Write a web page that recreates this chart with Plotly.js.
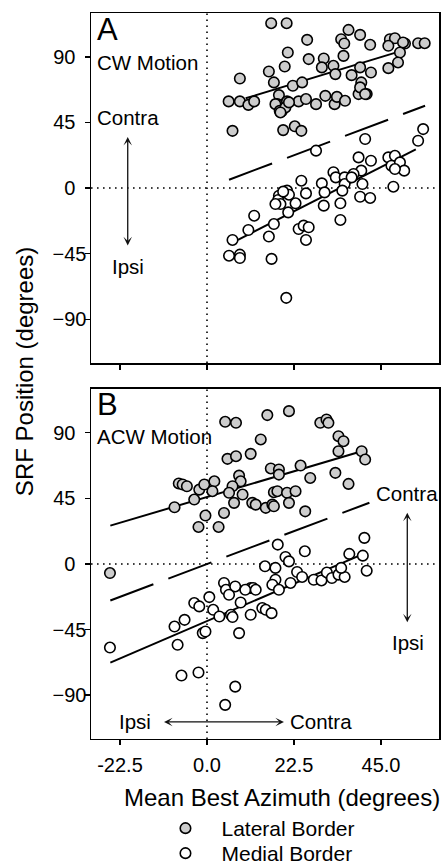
<!DOCTYPE html>
<html>
<head>
<meta charset="utf-8">
<script src="https://cdn.plot.ly/plotly-3.0.1.min.js"></script>
<style>html,body{margin:0;padding:0;background:#fff;}#chart{width:446px;height:864px;}</style>
</head>
<body>
<div id="chart"></div>
<script>
// ---------- Panel A (CW Motion) ----------
const aLatX = [16.6,20.6,25.9,20.9,20.1,8.5,16.0,17.3,18.6,22.2,24.6,26.3,30.2,29.7,32.7,33.2,35.3,34.7,36.6,35.5,39.6,42.2,39.6,37.4,42.4,39.9,39.2,41.3,47.3,48.6,46.9,51.2,54.6,56.3,49.9,49.4,46.9,5.6,8.5,10.7,12.2,18.2,19.4,20.7,23.7,25.6,28.2,30.6,33.0,33.6,35.7,6.6,19.7,22.7,24.4,17.7,18.8,20.3,21.2,50.7,39.6,40.9,19.0];
const aLatY = [113,113,101.6,92.9,83.3,75.1,79.9,72.4,63.7,70.1,72.4,88.4,88.8,82.7,83.8,78.1,90.6,102,108.4,99.1,105,98.2,82.7,77.4,79.2,72.4,64.4,64.4,102,102.7,97.5,99.1,99.3,99.3,92.9,86.1,82.2,59.4,59.4,57,59.4,57.5,52.9,59.4,59.4,61,57.5,63.2,57.5,62.5,59.8,39.2,39.7,42.3,39.2,57.5,52.9,55.3,58.7,99.8,69,64.4,51.8];
const aMedX = [55.9,54.6,40.9,28.2,39.2,42.4,46.9,48.6,47.7,49.9,51.0,48.6,48.2,39.9,37.9,40.2,39.6,42.2,32.7,33.3,35.6,35.6,35.0,34.5,34.5,29.7,30.4,30.2,24.4,25.6,22.9,21.0,20.7,21.2,18.6,18.4,19.0,17.3,16.0,12.2,10.7,6.6,5.7,8.5,8.5,16.7,23.7,25.0,26.3,25.6,20.5,37.4,19.7,17.7];
const aMedY = [40.4,32.4,33.6,25.6,21,18.7,21,22.1,15.3,17.6,11.9,13,0.9,11.9,9.6,2.7,-6,-6.8,10.8,7.3,7.3,2.7,-1.8,-10.5,-21.9,3.2,-3,-12.1,5,-3.7,-10.5,-16.7,-1.8,-4.6,-5.3,-8.2,-11,-24.7,-33.3,-19,-28.8,-35.6,-46.4,-45.7,-48,-48.6,-28.1,-25.8,-26.9,-35.6,-75.3,7.3,-2.5,-11];
const aLatFitX = [10, 49];
const aLatFitY = [61.5, 93];
const aMedFitX = [8, 54];
const aMedFitY = [-35.5, 26.5];
const aDiagX = [5.7, 56.4];
const aDiagY = [5.7, 56.4];

// ---------- Panel B (ACW Motion) ----------
const bLatX = [21.2,15.6,4.7,7.5,29.3,30.9,31.4,13.9,34.0,35.3,34.0,40.0,40.9,5.3,7.5,11.3,24.2,16.5,18.6,18.6,26.7,33.2,36.6,-7.3,-6.3,-5.2,-2.0,-0.7,1.9,1.4,8.3,8.7,6.6,5.7,9.2,-3.3,-8.4,7.0,11.7,12.6,15.2,17.3,18.2,20.7,22.9,16.9,17.3,21.2,25.4,4.4,-0.4,-2.2,3.0,-25.1];
const bLatY = [104.8,102.1,97.5,96.8,96.8,99.1,96.8,85.4,87.6,84.2,77.3,77.3,71.6,72.1,73.9,75.5,67.5,65.5,64.8,61.3,59,62.5,54.9,55.2,54.5,53.3,51,54.5,56.7,49.9,60.6,56.7,53.3,48.8,47.6,44.2,38.9,41.9,41.9,40.7,38.5,49.2,49.9,48.8,49.9,40.7,39.6,41.9,36.1,35,33.2,25.4,25.4,-6.2];
const bMedX = [-25.1,-7.6,-8.4,-5.8,-6.6,-2.2,-1.1,-0.4,7.3,4.7,8.3,-3.3,-2.0,0.6,1.6,3.2,4.4,4.9,5.7,7.3,8.7,6.2,6.6,11.3,11.9,9.9,12.6,11.3,14.3,15.2,16.7,15.0,17.7,18.3,20.3,21.2,17.7,16.9,18.6,21.6,23.3,25.3,24.6,27.6,29.6,31.0,32.3,34.0,35.6,34.7,36.8,40.3,40.7,41.3];
const bMedY = [-57.3,-55.4,-42.9,-38.3,-76.5,-74.4,-47.4,-46.3,-84.1,-96.6,-47.4,-26.8,-29.1,-22.7,-31.4,-36,-13,-17.7,-21.1,-15.4,-26.4,-34.8,-36.4,-16.5,-16.5,-17.7,-17.7,-34.8,-30.2,-31.4,-33.7,-1.6,-2.7,13.3,4.8,1.8,-10.8,-14.2,-17.7,-13,-5.5,8.7,-8.9,-10.8,-11.3,-5.8,-9.6,-7.3,-8.9,-2.7,6.9,5.7,17.9,-4.6];
const bLatFitX = [-25, 40];
const bLatFitY = [26.3, 77.3];
const bMedFitX = [-25, 40];
const bMedFitY = [-67.6, 6.4];
const bDiagX = [-25, 42];
const bDiagY = [-25, 42];

// ---------- Axes / labels ----------
const xTickVals = [-22.5, 0, 22.5, 45];
const xTickText = ['-22.5', '0.0', '22.5', '45.0'];
const yTickVals = [-90, -45, 0, 45, 90];
const yTickText = ['\u221290', '\u221245', '0\u00a0\u00a0', '45\u00a0\u00a0', '90\u00a0\u00a0'];
const seriesNames = ['Lateral Border', 'Medial Border'];

const FONT = 'Liberation Sans, Arial, Helvetica, sans-serif';
const latMarker = {symbol: 'circle', size: 10.5, color: '#cdcdcd', line: {color: '#000', width: 1.6}};
const medMarker = {symbol: 'circle', size: 10.5, color: '#ffffff', line: {color: '#000', width: 1.6}};
const fitLine = {color: '#000', width: 2};
const diagLine = {color: '#000', width: 2, dash: '46px,16px'};

const traces = [
  {x: aLatFitX, y: aLatFitY, mode: 'lines', line: fitLine, xaxis: 'x', yaxis: 'y', showlegend: false, hoverinfo: 'skip'},
  {x: aMedFitX, y: aMedFitY, mode: 'lines', line: fitLine, xaxis: 'x', yaxis: 'y', showlegend: false, hoverinfo: 'skip'},
  {x: aDiagX, y: aDiagY, mode: 'lines', line: diagLine, xaxis: 'x', yaxis: 'y', showlegend: false, hoverinfo: 'skip'},
  {x: aLatX, y: aLatY, mode: 'markers', marker: latMarker, name: seriesNames[0], xaxis: 'x', yaxis: 'y', legend: 'legend'},
  {x: aMedX, y: aMedY, mode: 'markers', marker: medMarker, name: seriesNames[1], xaxis: 'x', yaxis: 'y', legend: 'legend2'},
  {x: bLatFitX, y: bLatFitY, mode: 'lines', line: fitLine, xaxis: 'x2', yaxis: 'y2', showlegend: false, hoverinfo: 'skip'},
  {x: bMedFitX, y: bMedFitY, mode: 'lines', line: fitLine, xaxis: 'x2', yaxis: 'y2', showlegend: false, hoverinfo: 'skip'},
  {x: bDiagX, y: bDiagY, mode: 'lines', line: diagLine, xaxis: 'x2', yaxis: 'y2', showlegend: false, hoverinfo: 'skip'},
  {x: bLatX, y: bLatY, mode: 'markers', marker: latMarker, name: seriesNames[0], xaxis: 'x2', yaxis: 'y2', showlegend: false},
  {x: bMedX, y: bMedY, mode: 'markers', marker: medMarker, name: seriesNames[1], xaxis: 'x2', yaxis: 'y2', showlegend: false}
];

const axCommon = {
  showline: true, mirror: true, linecolor: '#000', linewidth: 1.5,
  ticks: 'outside', ticklen: 5, tickwidth: 1.5, tickcolor: '#000',
  showgrid: false, zeroline: false, tickfont: {family: FONT, size: 20, color: '#000'}
};
const xAx = (anchor, labels) => Object.assign({}, axCommon, {
  domain: [0, 1], range: [-30, 60], anchor: anchor, tickmode: 'array',
  tickvals: xTickVals, ticktext: xTickText, showticklabels: labels, ticklabelstandoff: 3
});
const yAx = (anchor, dom) => Object.assign({}, axCommon, {
  domain: dom, range: [-120, 120], anchor: anchor, tickmode: 'array',
  tickvals: yTickVals, ticktext: yTickText, ticklabelstandoff: -6
});

const dotted = {color: '#000', width: 1.6, dash: '1.6px,4.4px'};
const shapes = [];
[['x', 'y'], ['x2', 'y2']].forEach(([xr, yr]) => {
  shapes.push({type: 'line', xref: xr, yref: yr, x0: -30, x1: 60, y0: 0, y1: 0, line: dotted, layer: 'below'});
  shapes.push({type: 'line', xref: xr, yref: yr, x0: 0, x1: 0, y0: -120, y1: 120, line: dotted, layer: 'below'});
});

const txt = (text, xr, yr, x, y, size, xanchor) => ({
  text: text, xref: xr, yref: yr, x: x, y: y, showarrow: false,
  xanchor: xanchor || 'left', yanchor: 'middle', font: {family: FONT, size: size, color: '#000'}
});
const arrow = (xr, yr, x, y, ax, ay) => ({
  text: '', xref: xr, yref: yr, axref: xr, ayref: yr, x: x, y: y, ax: ax, ay: ay,
  showarrow: true, arrowside: 'end+start', arrowhead: 3, startarrowhead: 3,
  arrowsize: 1.1, startarrowsize: 1.1, arrowwidth: 1.3, arrowcolor: '#111', standoff: 0, startstandoff: 0
});

const annotations = [
  txt('A', 'x', 'y', -29.0, 108.5, 31),
  txt('CW Motion', 'x', 'y', -29.0, 86.3, 20.5),
  txt('Contra', 'x', 'y', -29.0, 48.6, 20.5),
  txt('Ipsi', 'x', 'y', -20.4, -54.1, 20.5, 'center'),
  arrow('x', 'y', -20.5, 35, -20.5, -40.4),
  txt('B', 'x2', 'y2', -29.0, 109.4, 31),
  txt('ACW Motion', 'x2', 'y2', -29.0, 87.4, 20.5),
  txt('Contra', 'x2', 'y2', 51.8, 48.3, 20.5, 'center'),
  txt('Ipsi', 'x2', 'y2', 52.0, -54.0, 20.5, 'center'),
  arrow('x2', 'y2', 51.8, 35.2, 51.8, -41),
  txt('Ipsi', 'x2', 'y2', -18.6, -108.3, 20.5, 'center'),
  txt('Contra', 'x2', 'y2', 29.6, -108.3, 20.5, 'center'),
  arrow('x2', 'y2', 19.9, -108.3, -11.5, -108.3),
  {text: 'SRF Position (degrees)', xref: 'paper', yref: 'paper', x: -0.1925, y: 0.578,
   textangle: -90, showarrow: false, xanchor: 'center', yanchor: 'middle',
   font: {family: FONT, size: 24, color: '#000'}},
  {text: 'Mean Best Azimuth (degrees)', xref: 'paper', yref: 'paper', x: 0.549, y: 0.0787,
   showarrow: false, xanchor: 'center', yanchor: 'middle',
   font: {family: FONT, size: 24, color: '#000'}}
];

const legendStyle = (y) => ({x: 0.168, y: y, xanchor: 'left', yanchor: 'top',
  font: {family: FONT, size: 21, color: '#000'}, bgcolor: 'rgba(0,0,0,0)', borderwidth: 0, itemwidth: 62});

const layout = {
  width: 446, height: 864,
  margin: {l: 91, r: 7, t: 13, b: 0, autoexpand: false},
  paper_bgcolor: '#fff', plot_bgcolor: '#fff',
  font: {family: FONT, color: '#000'},
  xaxis: xAx('y', false),
  yaxis: yAx('x', [0.5887, 1]),
  xaxis2: xAx('y2', true),
  yaxis2: yAx('x2', [0.1469, 0.5582]),
  shapes: shapes,
  annotations: annotations,
  showlegend: true,
  legend: legendStyle(0.0658),
  legend2: legendStyle(0.0364)
};

Plotly.newPlot('chart', traces, layout, {staticPlot: true, displayModeBar: false});
</script>
</body>
</html>
